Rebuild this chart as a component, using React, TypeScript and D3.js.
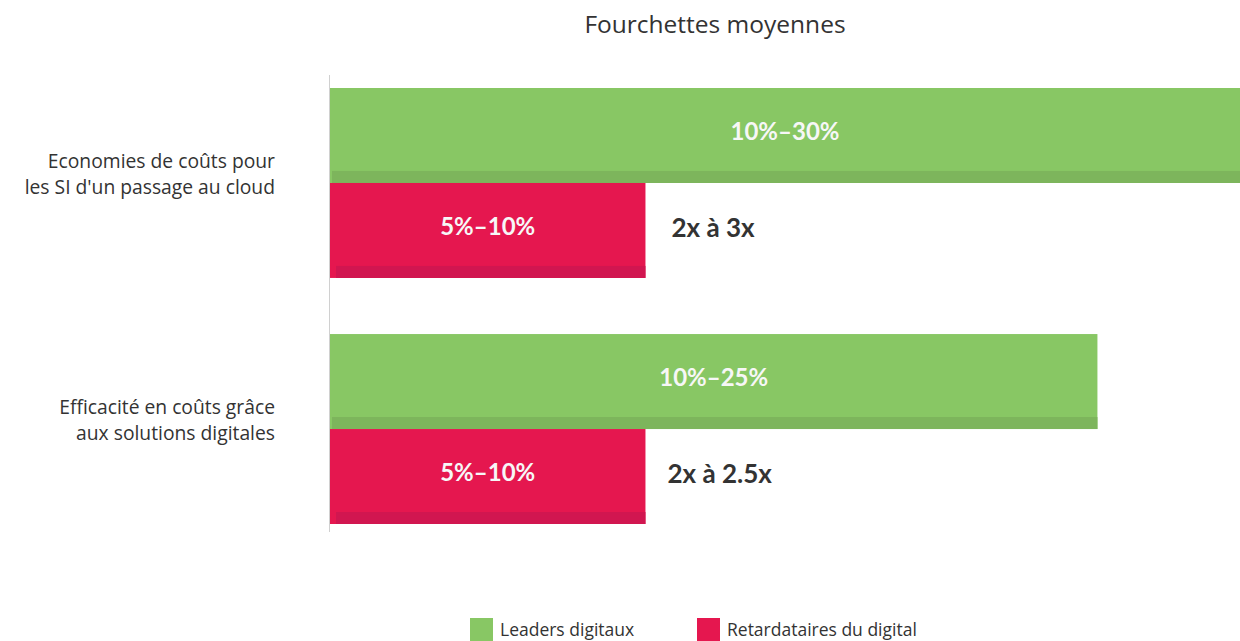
import React, { useEffect, useRef } from "react";
import * as d3 from "d3";

const categories = [
  ["Economies de coûts pour", "les SI d'un passage au cloud"],
  ["Efficacité en coûts grâce", "aux solutions digitales"],
];
const seriesNames = ["Leaders digitaux", "Retardataires du digital"];
const leaders = [30, 25.3];
const laggards = [10.4, 10.4];
const leaderLabels = ["10%–30%", "10%–25%"];
const laggardLabels = ["5%–10%", "5%–10%"];
const ratioLabels = ["2x à 3x", "2x à 2.5x"];

const colors = ["#88c764", "#e5174f"];
const stripColors = ["#7db55c", "#d11650"];

const width = 1240;
const height = 641;
const margin = { top: 88, left: 330, right: 0 };

export default function App() {
  const ref = useRef<SVGSVGElement | null>(null);

  useEffect(() => {
    drawChart();
  }, []);

  const drawChart = () => {
    const svg = d3.select(ref.current);
    svg.selectAll("*").remove();

    const x = d3.scaleLinear().domain([0, 30]).range([margin.left, width - margin.right]);
    const y0 = d3
      .scaleBand()
      .domain(d3.range(categories.length).map(String))
      .range([88, 524])
      .paddingInner(0.228);
    const y1 = d3.scaleBand().domain(["0", "1"]).range([0, y0.bandwidth()]);

    // axis line
    svg
      .append("line")
      .attr("x1", 329.5)
      .attr("x2", 329.5)
      .attr("y1", 75)
      .attr("y2", 532)
      .attr("stroke", "#d0d0d0")
      .attr("stroke-width", 1);

    // title
    svg
      .append("text")
      .attr("x", 715)
      .attr("y", 33)
      .attr("text-anchor", "middle")
      .attr("font-family", "Open Sans, sans-serif")
      .attr("font-size", 24.5)
      .attr("fill", "#333")
      .text("Fourchettes moyennes");

    const groups = svg
      .selectAll("g.grp")
      .data(categories)
      .join("g")
      .attr("class", "grp")
      .attr("transform", (d, i) => `translate(0,${y0(String(i))})`);

    // category labels
    groups
      .append("text")
      .attr("text-anchor", "end")
      .attr("font-family", "Open Sans, sans-serif")
      .attr("font-size", 19.3)
      .attr("fill", "#333")
      .selectAll("tspan")
      .data((d) => d)
      .join("tspan")
      .attr("x", 275)
      .attr("y", (d, j) => y0.bandwidth() / 2 - 15 + j * 26)
      .text((d) => d);

    groups.each(function (d, i) {
      const g = d3.select(this);
      const vals = [leaders[i], laggards[i]];
      const labels = [leaderLabels[i], laggardLabels[i]];
      vals.forEach((v, s) => {
        const yy = y1(String(s))!;
        const h = y1.bandwidth();
        const w = x(v) - x(0);
        g.append("rect")
          .attr("x", x(0))
          .attr("y", yy)
          .attr("width", w)
          .attr("height", h)
          .attr("fill", colors[s]);
        g.append("rect")
          .attr("x", x(0) + (s === 0 ? 2 : 6))
          .attr("y", yy + h - 12)
          .attr("width", w - (s === 0 ? 2 : 6))
          .attr("height", 12)
          .attr("fill", stripColors[s]);
        g.append("text")
          .attr("x", x(0) + w / 2)
          .attr("y", yy + h / 2 - 4)
          .attr("dy", "0.35em")
          .attr("text-anchor", "middle")
          .attr("font-family", "Lato, sans-serif")
          .attr("font-weight", "bold")
          .attr("font-size", 24)
          .attr("fill", "#f7f7f7")
          .text(labels[s]);
      });
      g.append("text")
        .attr("x", x(laggards[i]) + (i === 0 ? 26 : 22))
        .attr("y", y1("1")! + y1.bandwidth() / 2 - 3)
        .attr("dy", "0.35em")
        .attr("font-family", "Lato, sans-serif")
        .attr("font-weight", "bold")
        .attr("font-size", 26)
        .attr("fill", "#333")
        .text(ratioLabels[i]);
    });

    // legend
    const legendX = [470, 697];
    const legend = svg
      .selectAll("g.legend")
      .data(seriesNames)
      .join("g")
      .attr("class", "legend")
      .attr("transform", (d, i) => `translate(${legendX[i]},618)`);
    legend
      .append("rect")
      .attr("width", 23)
      .attr("height", 23)
      .attr("fill", (d, i) => colors[i]);
    legend
      .append("text")
      .attr("x", 30)
      .attr("y", 18)
      .attr("font-family", "Open Sans, sans-serif")
      .attr("font-size", 17.5)
      .attr("fill", "#333")
      .text((d) => d);
  };

  return (
    <svg
      ref={ref}
      width={width}
      height={height}
      style={{ position: "absolute", left: 0, top: 0, background: "#fff" }}
    />
  );
}
